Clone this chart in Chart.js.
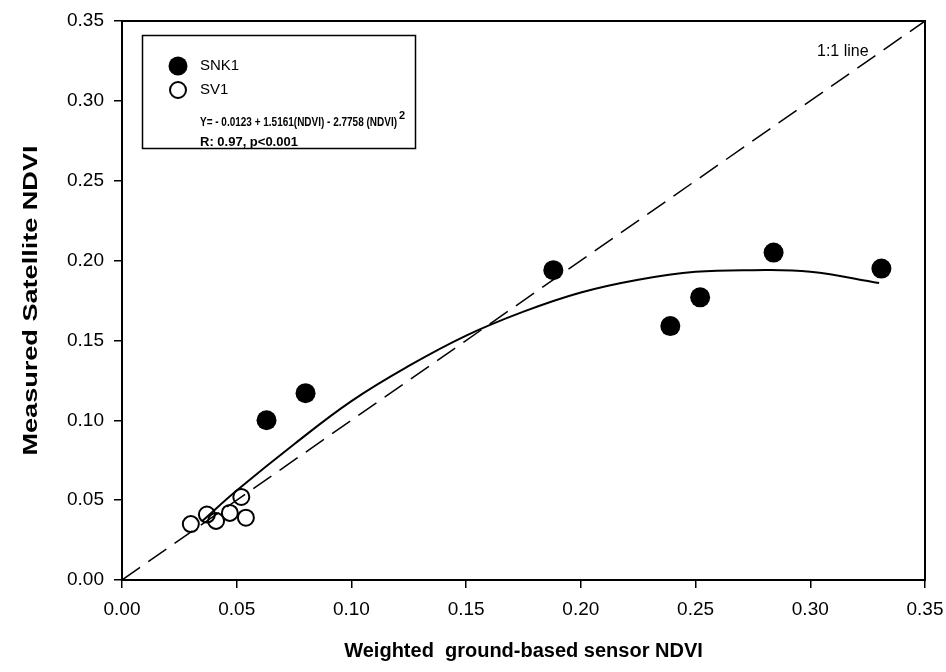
<!DOCTYPE html>
<html>
<head>
<meta charset="utf-8">
<script src="https://cdn.jsdelivr.net/npm/chart.js@4.4.1/dist/chart.umd.min.js"></script>
<style>
    html, body { margin: 0; padding: 0; background: #fff; }
    #wrap { width: 946px; height: 672px; }
</style>
</head>
<body>
<div id="wrap"><canvas id="ndviChart" width="946" height="672"></canvas></div>
<script>
// Measured points
const snkX = [0.063, 0.080, 0.188, 0.239, 0.252, 0.284, 0.331];
const snkY = [0.100, 0.117, 0.194, 0.159, 0.177, 0.205, 0.195];
const sv1X = [0.030, 0.037, 0.041, 0.047, 0.052, 0.054];
const sv1Y = [0.035, 0.041, 0.037, 0.042, 0.052, 0.039];

// Regression curve as traced on the figure
const fitX = [0.035, 0.05, 0.075, 0.10, 0.125, 0.15, 0.175, 0.20, 0.225, 0.25, 0.275, 0.30, 0.33];
const fitY = [0.037, 0.056, 0.085, 0.112, 0.134, 0.153, 0.168, 0.180, 0.188, 0.193, 0.194, 0.193, 0.186];

// 1:1 reference line end points
const oneX = [0, 0.35];
const oneY = [0, 0.35];

const tickVals = [0, 0.05, 0.10, 0.15, 0.20, 0.25, 0.30, 0.35];

const legendLabels = ["SNK1", "SV1"];
const eqText = "Y= - 0.0123 + 1.5161(NDVI) - 2.7758 (NDVI)";
const rText = "R: 0.97, p<0.001";
const oneLabel = "1:1 line";
const yTitle = "Measured Satellite NDVI";

const FONT = "'Liberation Sans', Arial, sans-serif";

function toPoints(xs, ys) {
    return xs.map((x, i) => ({ x: x, y: ys[i] }));
}

// draw text squeezed or stretched to a given width
function fitText(ctx, txt, x, y, width) {
    const w = ctx.measureText(txt).width;
    ctx.save();
    ctx.translate(x, y);
    ctx.scale(width / w, 1);
    ctx.fillText(txt, 0, 0);
    ctx.restore();
}

// Frame, inset legend box, y title and the "1:1 line" note
const overlayPlugin = {
    id: "overlay",
    afterDraw(chart) {
        const ctx = chart.ctx;
        const a = chart.chartArea;
        ctx.save();
        ctx.strokeStyle = "#000";
        ctx.lineWidth = 2;
        ctx.strokeRect(a.left, a.top, a.right - a.left, a.bottom - a.top);

        // legend box
        ctx.lineWidth = 1.5;
        ctx.strokeRect(142.5, 35.5, 273, 113);

        ctx.fillStyle = "#000";
        ctx.beginPath();
        ctx.arc(178, 66, 9.5, 0, Math.PI * 2);
        ctx.fill();
        ctx.beginPath();
        ctx.lineWidth = 2;
        ctx.arc(178, 90, 8, 0, Math.PI * 2);
        ctx.stroke();

        ctx.textBaseline = "middle";
        ctx.textAlign = "left";
        ctx.font = "15px " + FONT;
        ctx.fillText(legendLabels[0], 200, 66);
        ctx.fillText(legendLabels[1], 200, 90);

        ctx.font = "bold 12.5px " + FONT;
        fitText(ctx, eqText, 200, 123, 197);
        ctx.font = "bold 11px " + FONT;
        ctx.fillText("2", 399, 116);
        ctx.font = "bold 13px " + FONT;
        ctx.fillText(rText, 200, 142);

        ctx.font = "16px " + FONT;
        ctx.fillText(oneLabel, 817, 52);

        // y axis title, taller than the x title in the original
        ctx.font = "bold 20px " + FONT;
        ctx.translate(31, (a.top + a.bottom) / 2);
        ctx.rotate(-Math.PI / 2);
        fitText(ctx, yTitle, -155, 0, 310);
        ctx.restore();
    }
};

const ctx = document.getElementById("ndviChart").getContext("2d");

new Chart(ctx, {
    type: "scatter",
    data: {
        datasets: [
            {
                label: legendLabels[0],
                data: toPoints(snkX, snkY),
                backgroundColor: "#000",
                borderColor: "#000",
                pointRadius: 10,
                pointBorderWidth: 0
            },
            {
                label: legendLabels[1],
                data: toPoints(sv1X, sv1Y),
                backgroundColor: "rgba(255,255,255,0)",
                borderColor: "#000",
                pointRadius: 8,
                pointBorderWidth: 2
            },
            {
                label: "fit",
                type: "line",
                data: toPoints(fitX, fitY),
                borderColor: "#000",
                borderWidth: 2,
                pointRadius: 0,
                tension: 0.4,
                fill: false
            },
            {
                label: "1:1",
                type: "line",
                data: toPoints(oneX, oneY),
                borderColor: "#000",
                borderWidth: 1.5,
                borderDash: [22, 10],
                pointRadius: 0,
                fill: false
            }
        ]
    },
    options: {
        responsive: false,
        animation: false,
        layout: { padding: { top: 21, right: 21, left: 0, bottom: 0 } },
        plugins: {
            legend: { display: false },
            tooltip: { enabled: false }
        },
        scales: {
            x: {
                type: "linear",
                min: 0,
                max: 0.35,
                afterBuildTicks: (s) => { s.ticks = tickVals.map(v => ({ value: v })); },
                afterFit: (s) => {
                    s.height = 92;
                    s.paddingLeft = 0;
                    s.paddingRight = 0;
                },
                ticks: {
                    color: "#000",
                    padding: 10,
                    font: { family: FONT, size: 19 },
                    callback: (v) => v.toFixed(2)
                },
                grid: {
                    drawOnChartArea: false,
                    color: "#000",
                    lineWidth: 1.5,
                    tickLength: 8
                },
                border: { display: true, color: "#000", width: 2 },
                title: {
                    display: true,
                    text: "Weighted  ground-based sensor NDVI",
                    color: "#000",
                    font: { family: FONT, size: 20, weight: "bold" },
                    padding: { top: 0, bottom: 9 }
                }
            },
            y: {
                type: "linear",
                min: 0,
                max: 0.35,
                afterBuildTicks: (s) => { s.ticks = tickVals.map(v => ({ value: v })); },
                afterFit: (s) => {
                    s.width = 122;
                    s.paddingTop = 0;
                    s.paddingBottom = 0;
                },
                ticks: {
                    color: "#000",
                    padding: 10,
                    font: { family: FONT, size: 19 },
                    callback: (v) => v.toFixed(2)
                },
                grid: {
                    drawOnChartArea: false,
                    color: "#000",
                    lineWidth: 1.5,
                    tickLength: 8
                },
                border: { display: true, color: "#000", width: 2 }
            }
        }
    },
    plugins: [overlayPlugin]
});
</script>
</body>
</html>
